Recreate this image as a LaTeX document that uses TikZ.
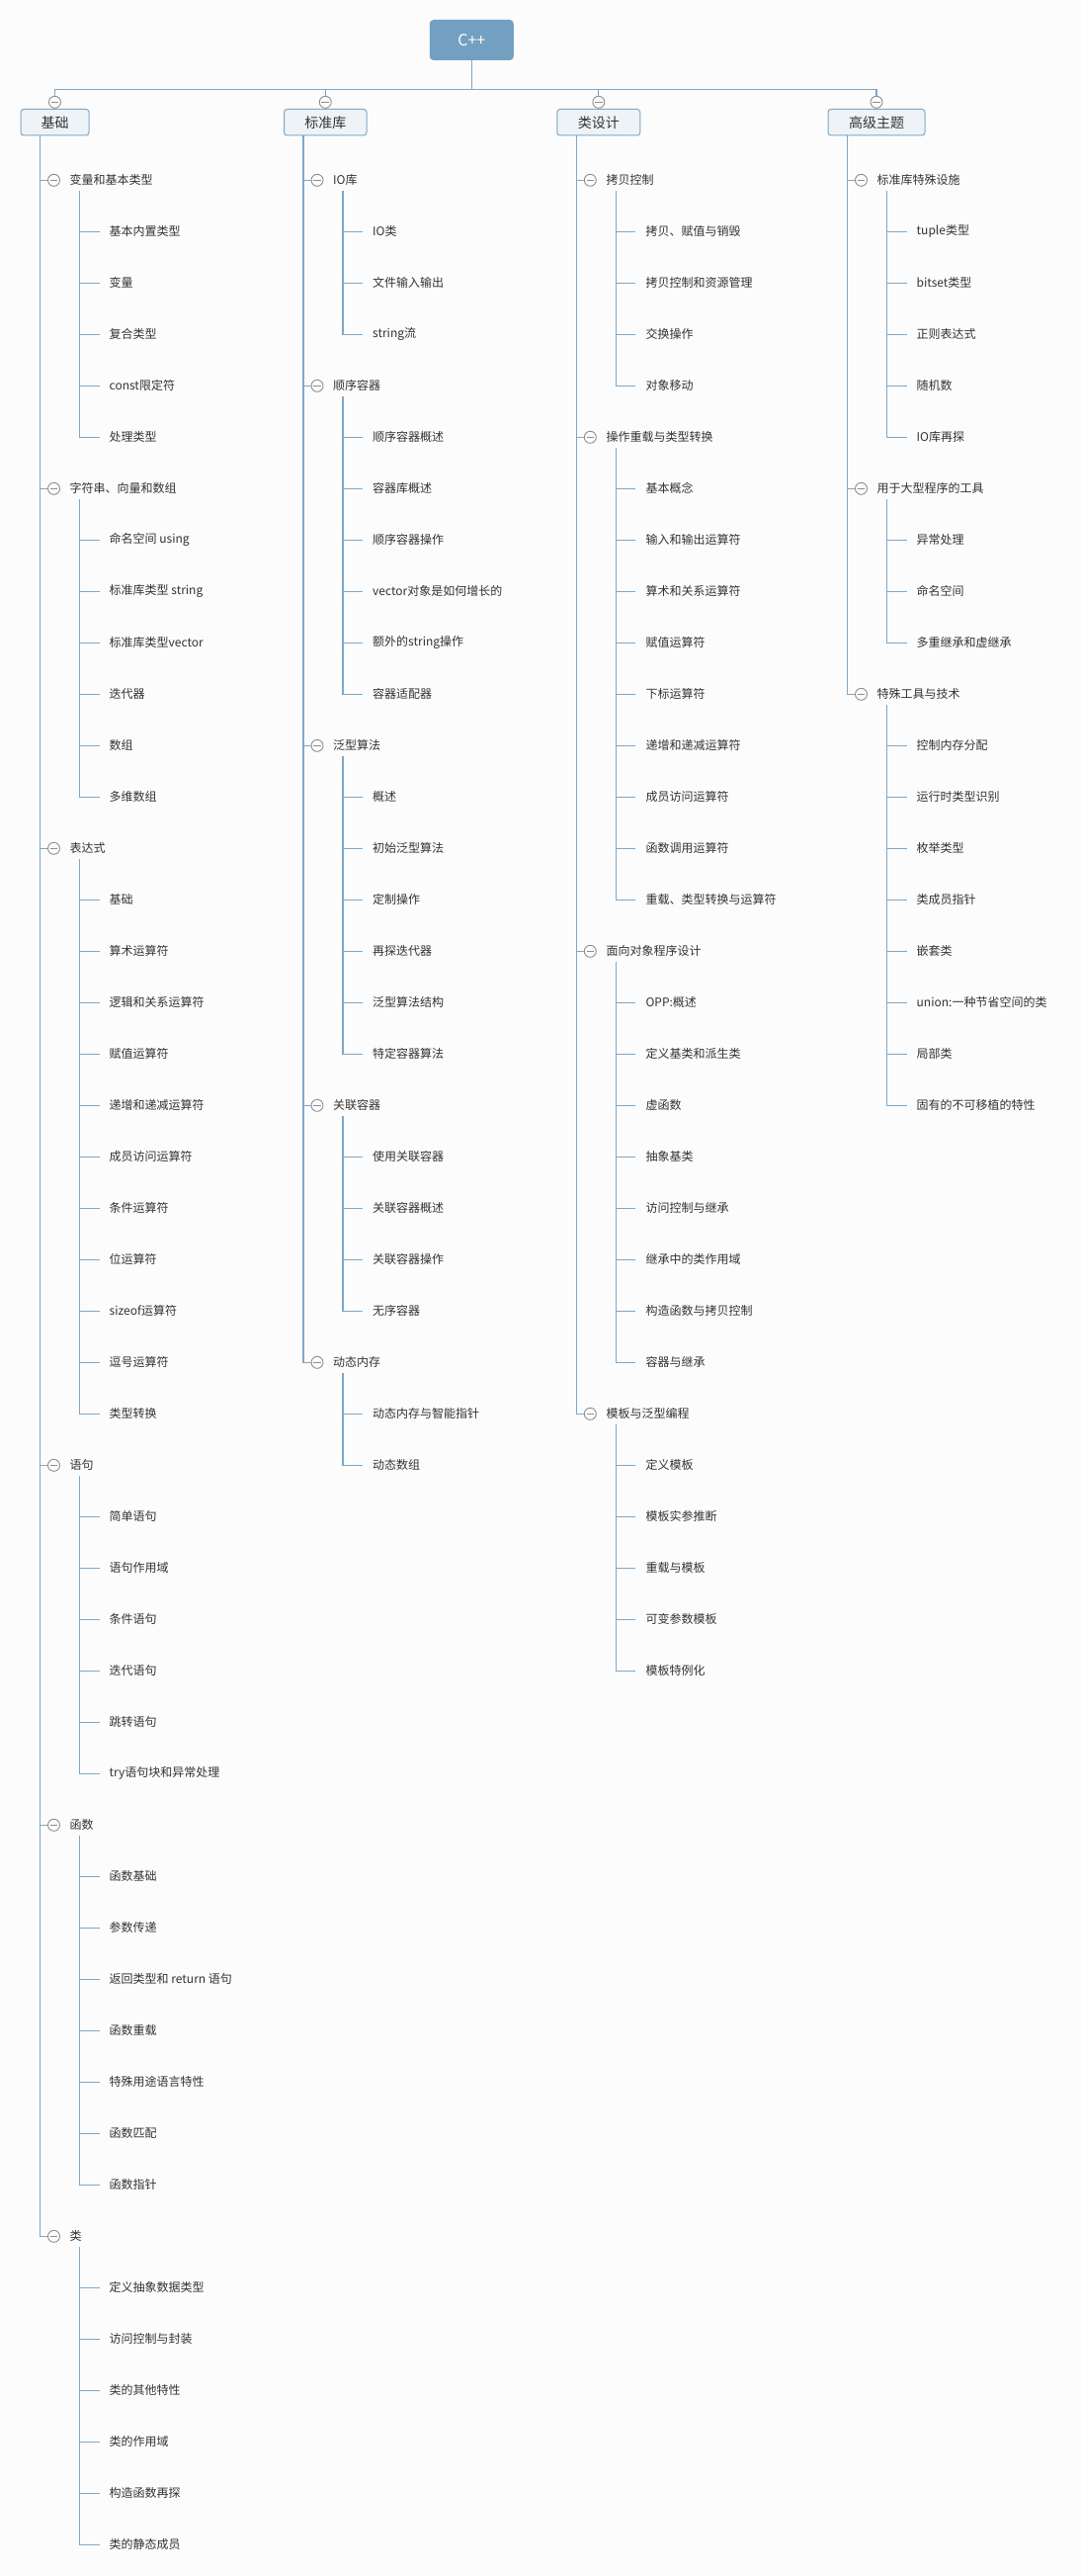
\documentclass[tikz,border=0pt]{standalone}
\usepackage{fontspec}
\setmainfont{Noto Sans CJK SC}
\usetikzlibrary{calc}
\definecolor{bg}{HTML}{FCFCFC}
\definecolor{linec}{HTML}{7EA7C8}
\definecolor{rootc}{HTML}{73A0C0}
\definecolor{boxfill}{HTML}{EEF3F7}
\definecolor{circg}{HTML}{8E8E8E}
\definecolor{textc}{HTML}{333333}
\tikzset{
 link/.style={draw=linec, line width=1.1pt},
 minus/.style={circle, draw=circg, fill=bg, line width=0.9pt, minimum size=12pt, inner sep=0pt,
   path picture={\draw[circg, line width=0.9pt] ([xshift=2.2pt]path picture bounding box.west) -- ([xshift=-2.2pt]path picture bounding box.east);}},
 rootbox/.style={fill=rootc, rounded corners=4pt, minimum width=85pt, minimum height=41pt, text=white, font=\fontsize{16}{18}\selectfont, inner sep=0pt},
 topic/.style={draw=linec, fill=boxfill, line width=1pt, rounded corners=3pt, minimum height=26.5pt, inner sep=0pt, text=textc, font=\fontsize{14}{16}\selectfont, anchor=north west},
 subtopic/.style={anchor=west, inner xsep=6pt, inner ysep=0pt, text=textc, font=\fontsize{12}{14}\selectfont},
 leaf/.style={anchor=west, inner xsep=10pt, inner ysep=0pt, text=textc, font=\fontsize{12}{14}\selectfont},
}
% #1 trunk x, #2 row index, #3 name, #4 label, #5 children, #6 trunk coordinate
\newcommand\mmrow[6]{%
  \node[minus] (#3) at ({#1+14},{182.3+52*#2}) {};
  \node[subtopic] (#3t) at ({#1+24},{182.3+52*#2}) {#4};
  \coordinate (#3s) at ({#1+40},{193.3+52*#2});
  \draw[link] (#6) |- (#3.west);
  \foreach \lab [count=\i] in {#5} {
    \node[leaf] (#3-\i) at ({#1+60},{182.3+52*(#2+\i)}) {\lab};
    \draw[link] (#3s) |- (#3-\i.west);
  }
}
\begin{document}
\begin{tikzpicture}[x=1pt,y=-1pt]
\fill[bg] (0,0) rectangle (1094,2606);
\useasboundingbox (0,0) rectangle (1094,2606);

\node[rootbox] (root) at (477.3,40.5) {C++};
\coordinate (bus) at (477.3,90.3);

\node[topic, minimum width=69pt] (b1) at (20.5,110) {基础};
\node[topic, minimum width=83.5pt] (b2) at (287,110) {标准库};
\node[topic, minimum width=84pt] (b3) at (563.3,110) {类设计};
\node[topic, minimum width=98pt] (b4) at (837.5,110) {高级主题};

\draw[link] (root.south) -- (bus);
\foreach \k in {1,2,3,4} {
  \node[minus] (m\k) at (b\k.north |- 0,103.3) {};
  \draw[link] (bus) -| (m\k.north);
  \draw[link] (m\k.south) -- (b\k.north);
  \coordinate (k\k) at ($(b\k.south west)+(20,0)$);
}

% column 1
\mmrow{40.5}{0}{a1}{变量和基本类型}{基本内置类型,变量,复合类型,const限定符,处理类型}{k1}
\mmrow{40.5}{6}{a2}{字符串、向量和数组}{命名空间 using,标准库类型 string,标准库类型vector,迭代器,数组,多维数组}{k1}
\mmrow{40.5}{13}{a3}{表达式}{基础,算术运算符,逻辑和关系运算符,赋值运算符,递增和递减运算符,成员访问运算符,条件运算符,位运算符,sizeof运算符,逗号运算符,类型转换}{k1}
\mmrow{40.5}{25}{a4}{语句}{简单语句,语句作用域,条件语句,迭代语句,跳转语句,try语句块和异常处理}{k1}
\mmrow{40.5}{32}{a5}{函数}{函数基础,参数传递,返回类型和 return 语句,函数重载,特殊用途语言特性,函数匹配,函数指针}{k1}
\mmrow{40.5}{40}{a6}{类}{定义抽象数据类型,访问控制与封装,类的其他特性,类的作用域,构造函数再探,类的静态成员}{k1}

% column 2
\mmrow{307}{0}{s1}{IO库}{IO类,文件输入输出,string流}{k2}
\mmrow{307}{4}{s2}{顺序容器}{顺序容器概述,容器库概述,顺序容器操作,vector对象是如何增长的,额外的string操作,容器适配器}{k2}
\mmrow{307}{11}{s3}{泛型算法}{概述,初始泛型算法,定制操作,再探迭代器,泛型算法结构,特定容器算法}{k2}
\mmrow{307}{18}{s4}{关联容器}{使用关联容器,关联容器概述,关联容器操作,无序容器}{k2}
\mmrow{307}{23}{s5}{动态内存}{动态内存与智能指针,动态数组}{k2}

% column 3
\mmrow{583.3}{0}{d1}{拷贝控制}{拷贝、赋值与销毁,拷贝控制和资源管理,交换操作,对象移动}{k3}
\mmrow{583.3}{5}{d2}{操作重载与类型转换}{基本概念,输入和输出运算符,算术和关系运算符,赋值运算符,下标运算符,递增和递减运算符,成员访问运算符,函数调用运算符,重载、类型转换与运算符}{k3}
\mmrow{583.3}{15}{d3}{面向对象程序设计}{OPP:概述,定义基类和派生类,虚函数,抽象基类,访问控制与继承,继承中的类作用域,构造函数与拷贝控制,容器与继承}{k3}
\mmrow{583.3}{24}{d4}{模板与泛型编程}{定义模板,模板实参推断,重载与模板,可变参数模板,模板特例化}{k3}

% column 4
\mmrow{857.5}{0}{h1}{标准库特殊设施}{tuple类型,bitset类型,正则表达式,随机数,IO库再探}{k4}
\mmrow{857.5}{6}{h2}{用于大型程序的工具}{异常处理,命名空间,多重继承和虚继承}{k4}
\mmrow{857.5}{10}{h3}{特殊工具与技术}{控制内存分配,运行时类型识别,枚举类型,类成员指针,嵌套类,union:一种节省空间的类,局部类,固有的不可移植的特性}{k4}
\end{tikzpicture}
\end{document}
